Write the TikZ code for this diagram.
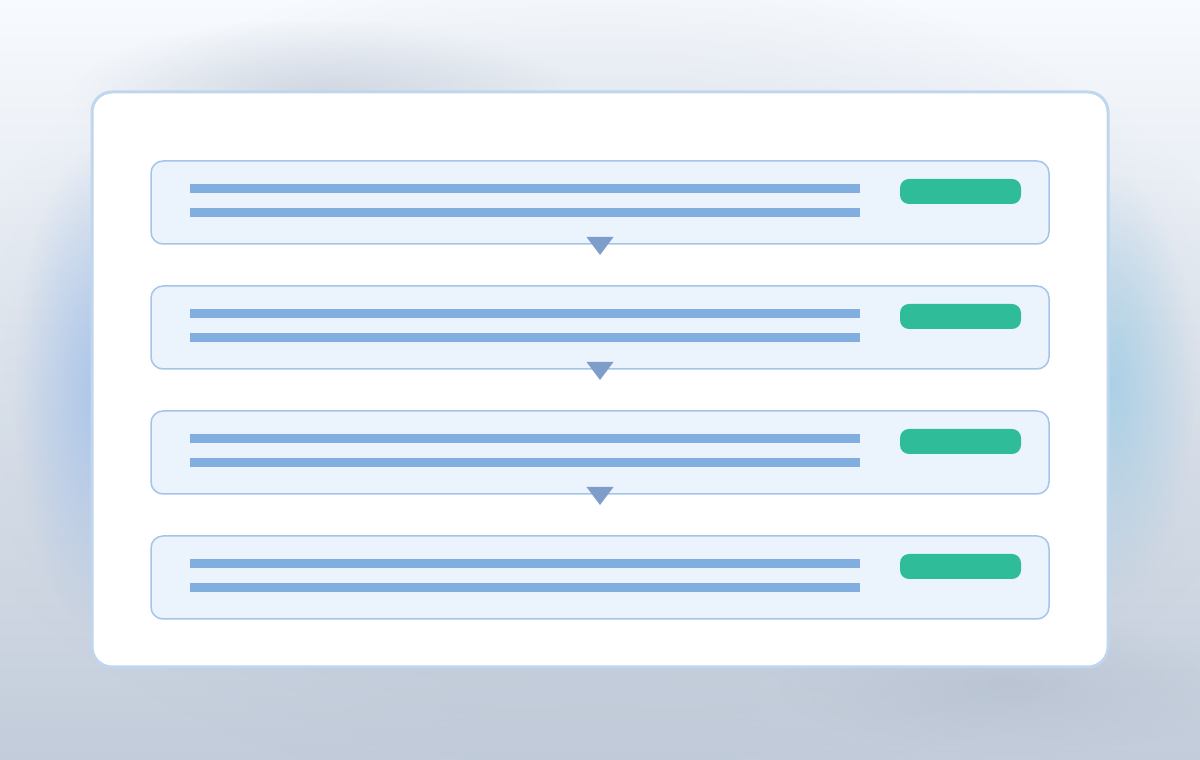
\documentclass[tikz,border=0pt]{standalone}
\usetikzlibrary{fadings,positioning}

\definecolor{bgtop}{HTML}{F7FAFE}
\definecolor{bgbot}{HTML}{C2CCDA}
\definecolor{cardline}{HTML}{BFD6EE}
\definecolor{rowline}{HTML}{A5C4EA}
\definecolor{rowfill}{HTML}{EBF3FD}
\definecolor{barblue}{HTML}{80AEDF}
\definecolor{pillgreen}{HTML}{2FBC98}
\definecolor{tricol}{HTML}{7F9DCB}
\definecolor{glowblue}{HTML}{A6C3EA}
\definecolor{glowcyan}{HTML}{A6CFE6}
\definecolor{shadowgray}{HTML}{A9B5C6}

\tikzfading[name=softglow, inner color=transparent!0, outer color=transparent!100]

\tikzset{
    row/.style={draw=rowline, fill=rowfill, line width=1.5pt, rounded corners=12pt,
        minimum width=898pt, minimum height=83pt, inner sep=0pt, outer sep=0pt},
    bar/.style={fill=barblue, minimum width=670pt, minimum height=9.5pt, inner sep=0pt, outer sep=0pt},
    pill/.style={fill=pillgreen, rounded corners=9pt, minimum width=121pt, minimum height=25pt,
        inner sep=0pt, outer sep=0pt},
    tri/.style={fill=tricol}
}

\begin{document}
\begin{tikzpicture}[x=1pt, y=1pt]

    % Background
    \useasboundingbox (0,0) rectangle (1200,760);
    \shade[top color=bgtop, bottom color=bgbot] (0,0) rectangle (1200,760);

    % Soft shadows round the card
    \fill[shadowgray, opacity=0.5, path fading=softglow] (600,380) ellipse (680 and 420);
    \fill[shadowgray, opacity=0.4, path fading=softglow] (320,665) ellipse (250 and 75);
    \fill[shadowgray, opacity=0.4, path fading=softglow] (1010,75) ellipse (230 and 70);
    \fill[glowblue, opacity=0.9, path fading=softglow] (100,370) ellipse (85 and 240);
    \fill[glowcyan, opacity=0.9, path fading=softglow] (1110,375) ellipse (85 and 210);

    % Card
    \filldraw[draw=cardline, fill=white, line width=3pt, rounded corners=20pt] (92,93) rectangle (1108,668);

    % Rows
    \node[row] (r1) at (600,557.5) {};
    \node[row] (r2) at (600,432.5) {};
    \node[row] (r3) at (600,307.5) {};
    \node[row] (r4) at (600,182.5) {};

    % Bars
    \node[bar, anchor=west] (b1a) at ([xshift=39pt, yshift=14pt]r1.west) {};
    \node[bar, anchor=west] (b1b) at ([xshift=39pt, yshift=-10pt]r1.west) {};
    \node[bar, anchor=west] (b2a) at ([xshift=39pt, yshift=14pt]r2.west) {};
    \node[bar, anchor=west] (b2b) at ([xshift=39pt, yshift=-10pt]r2.west) {};
    \node[bar, anchor=west] (b3a) at ([xshift=39pt, yshift=14pt]r3.west) {};
    \node[bar, anchor=west] (b3b) at ([xshift=39pt, yshift=-10pt]r3.west) {};
    \node[bar, anchor=west] (b4a) at ([xshift=39pt, yshift=14pt]r4.west) {};
    \node[bar, anchor=west] (b4b) at ([xshift=39pt, yshift=-10pt]r4.west) {};

    % Pills
    \node[pill, anchor=east] (p1) at ([xshift=-28pt, yshift=11pt]r1.east) {};
    \node[pill, anchor=east] (p2) at ([xshift=-28pt, yshift=11pt]r2.east) {};
    \node[pill, anchor=east] (p3) at ([xshift=-28pt, yshift=11pt]r3.east) {};
    \node[pill, anchor=east] (p4) at ([xshift=-28pt, yshift=11pt]r4.east) {};

    % Arrow heads between rows
    \fill[tri] ([xshift=-13.5pt, yshift=7pt]r1.south) -- ([xshift=13.5pt, yshift=7pt]r1.south) -- ([yshift=-11pt]r1.south) -- cycle; % r1
    \fill[tri] ([xshift=-13.5pt, yshift=7pt]r2.south) -- ([xshift=13.5pt, yshift=7pt]r2.south) -- ([yshift=-11pt]r2.south) -- cycle; % r2
    \fill[tri] ([xshift=-13.5pt, yshift=7pt]r3.south) -- ([xshift=13.5pt, yshift=7pt]r3.south) -- ([yshift=-11pt]r3.south) -- cycle; % r3

\end{tikzpicture}
\end{document}
